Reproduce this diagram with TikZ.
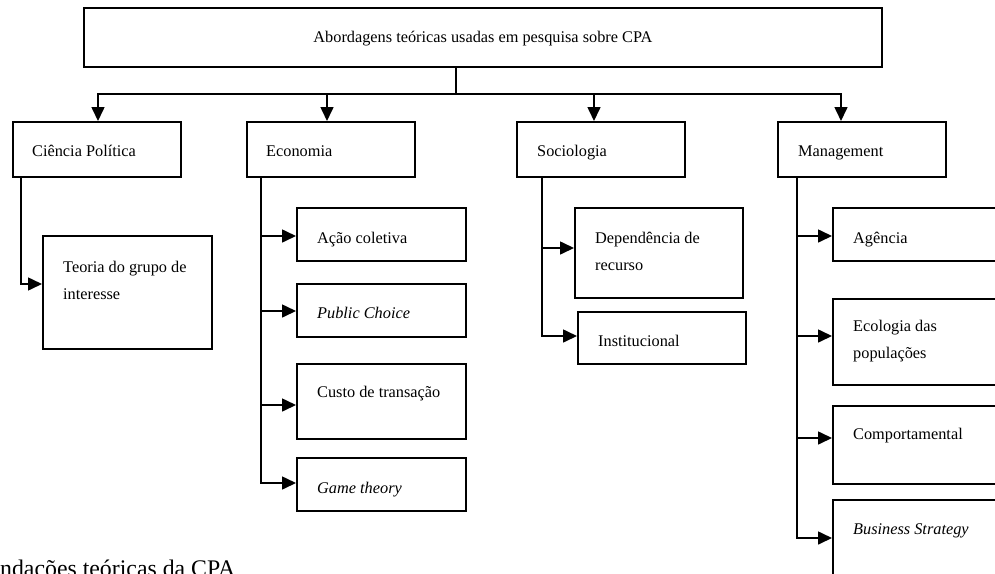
\documentclass[tikz,border=0pt]{standalone}
\usepackage{fontspec}
\setmainfont{Liberation Serif}
\usetikzlibrary{arrows.meta,calc}

\begin{document}
\begin{tikzpicture}[x=1pt,y=-1pt,
  box/.style={draw, line width=1.8pt, rectangle, inner sep=0pt, anchor=north west},
  conn/.style={line width=1.6pt},
  arr/.style={conn, -{Triangle[length=14pt,width=13pt]}},
  lbl/.style={anchor=base west, inner sep=0pt, font=\fontsize{16.3}{27}\selectfont},
  captxt/.style={anchor=base west, inner sep=0pt, font=\fontsize{23.8}{28}\selectfont}
]
% page frame
\fill[white] (0,0) rectangle (995,573);
\useasboundingbox (0,0) rectangle (995,573);

% root
\node[box, minimum width=798, minimum height=59] (top) at (83,7) {};
\node[lbl, anchor=base] (ttop) at ($(top.north)+(0,35)$) {Abordagens teóricas usadas em pesquisa sobre CPA};

% disciplines
\node[box, minimum width=168, minimum height=55] (cp)  at (12,121) {};
\node[box, minimum width=168, minimum height=55] (eco) at (246,121) {};
\node[box, minimum width=168, minimum height=55] (soc) at (516,121) {};
\node[box, minimum width=168, minimum height=55] (man) at (777,121) {};
\node[lbl] (tcp)  at ($(cp.north west)+(20,35)$)  {Ciência Política};
\node[lbl] (teco) at ($(eco.north west)+(20,35)$) {Economia};
\node[lbl] (tsoc) at ($(soc.north west)+(21,35)$) {Sociologia};
\node[lbl] (tman) at ($(man.north west)+(21,35)$) {Management};

% Ciência Política
\node[box, minimum width=169, minimum height=113] (teoria) at (42,235) {};
\node[lbl] (tteoria) at ($(teoria.north west)+(21,37)$) {\parbox[t]{160pt}{Teoria do grupo de\\interesse}};

% Economia
\node[box, minimum width=169, minimum height=53] (ac) at (296,207) {};
\node[box, minimum width=169, minimum height=53] (pc) at (296,283) {};
\node[box, minimum width=169, minimum height=75] (ct) at (296,363) {};
\node[box, minimum width=169, minimum height=53] (gt) at (296,457) {};
\node[lbl] (tac) at ($(ac.north west)+(21,36)$) {Ação coletiva};
\node[lbl] (tpc) at ($(pc.north west)+(21,35)$) {\itshape Public Choice};
\node[lbl] (tct) at ($(ct.north west)+(21,34)$) {Custo de transação};
\node[lbl] (tgt) at ($(gt.north west)+(21,36)$) {\itshape Game theory};

% Sociologia
\node[box, minimum width=168, minimum height=90] (dr)   at (574,207) {};
\node[box, minimum width=168, minimum height=52] (inst) at (577,311) {};
\node[lbl] (tdr)   at ($(dr.north west)+(21,36)$)   {\parbox[t]{150pt}{Dependência de\\recurso}};
\node[lbl] (tinst) at ($(inst.north west)+(21,35)$) {Institucional};

% Management (boxes run on past the right edge)
\node[box, minimum width=190, minimum height=53] (ag)   at (832,207) {};
\node[box, minimum width=190, minimum height=86] (ep)   at (832,298) {};
\node[box, minimum width=190, minimum height=78] (comp) at (832,405) {};
\node[box, minimum width=190, minimum height=80] (bs)   at (832,499) {};
\node[lbl] (tag)   at ($(ag.north west)+(21,36)$)   {Agência};
\node[lbl] (tep)   at ($(ep.north west)+(21,33)$)   {\parbox[t]{150pt}{Ecologia das\\populações}};
\node[lbl] (tcomp) at ($(comp.north west)+(21,34)$) {Comportamental};
\node[lbl] (tbs)   at ($(bs.north west)+(21,35)$)   {\itshape Business Strategy};

% root to disciplines
\coordinate (bus) at (456,94);
\coordinate (d1) at ($(cp.north west)+(86,0)$);
\coordinate (d2) at ($(eco.north west)+(81,0)$);
\coordinate (d3) at ($(soc.north west)+(78,0)$);
\coordinate (d4) at ($(man.north west)+(64,0)$);
\draw[conn] (top.south -| bus) -- (bus);
\draw[arr] (bus) -| (d1);
\draw[arr] (bus) -| (d2);
\draw[arr] (bus) -| (d3);
\draw[arr] (bus) -| (d4);

% Ciência Política branch
\coordinate (cps) at ($(cp.south west)+(9,0)$);
\coordinate (tga) at ($(teoria.north west)+(0,49)$);
\draw[arr] (cps) |- (tga);

% Economia branch
\coordinate (es)  at ($(eco.south west)+(15,0)$);
\coordinate (aca) at ($(ac.north west)+(0,29)$);
\coordinate (pca) at ($(pc.north west)+(0,28)$);
\coordinate (cta) at ($(ct.north west)+(0,42)$);
\coordinate (gta) at ($(gt.north west)+(0,26)$);
\draw[arr] (es) |- (gta);
\draw[arr] (es |- aca) -- (aca);
\draw[arr] (es |- pca) -- (pca);
\draw[arr] (es |- cta) -- (cta);

% Sociologia branch
\coordinate (ss)    at ($(soc.south west)+(26,0)$);
\coordinate (dra)   at ($(dr.north west)+(0,41)$);
\coordinate (insta) at ($(inst.north west)+(0,25)$);
\draw[arr] (ss) |- (insta);
\draw[arr] (ss |- dra) -- (dra);

% Management branch
\coordinate (ms)  at ($(man.south west)+(20,0)$);
\coordinate (aga) at ($(ag.north west)+(0,29)$);
\coordinate (epa) at ($(ep.north west)+(0,38)$);
\coordinate (coa) at ($(comp.north west)+(0,33)$);
\coordinate (bsa) at ($(bs.north west)+(0,39)$);
\draw[arr] (ms) |- (bsa);
\draw[arr] (ms |- aga) -- (aga);
\draw[arr] (ms |- epa) -- (epa);
\draw[arr] (ms |- coa) -- (coa);

% caption line, running off the lower edge
\node[captxt] (caption) at (0,576) {ndações teóricas da CPA};
\end{tikzpicture}
\end{document}
